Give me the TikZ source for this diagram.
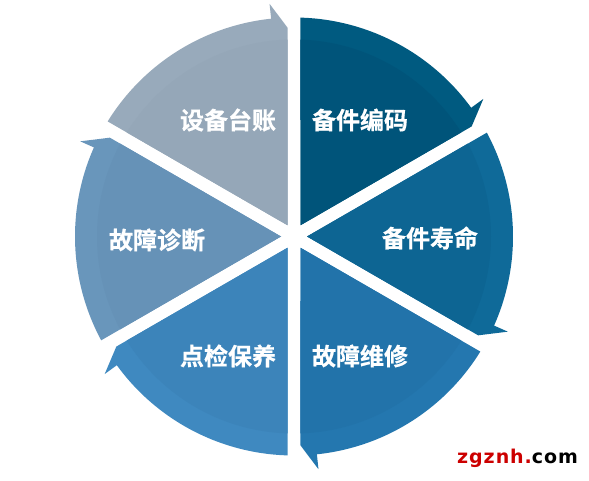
\documentclass[tikz,border=0pt]{standalone}
\usepackage{fontspec}
\newfontfamily\cjk{Noto Sans CJK SC}[BoldFont={Noto Sans CJK SC Bold},BoldFeatures={FakeBold=0.6}]
\newfontfamily\wmfont{DejaVu Sans}[LetterSpace=5]
\definecolor{cA}{HTML}{005A80}
\definecolor{cAi}{HTML}{00547A}
\definecolor{cB}{HTML}{0F6A99}
\definecolor{cBi}{HTML}{0D6593}
\definecolor{cC}{HTML}{2477AF}
\definecolor{cCi}{HTML}{2273AA}
\definecolor{cD}{HTML}{3F89C0}
\definecolor{cDi}{HTML}{3C84BA}
\definecolor{cE}{HTML}{6996BB}
\definecolor{cEi}{HTML}{6692B7}
\definecolor{cF}{HTML}{98AABB}
\definecolor{cFi}{HTML}{95A7B8}
\definecolor{wmred}{HTML}{CC0000}
\tikzset{
  lbl/.style={text=white, inner sep=0pt, font=\cjk\bfseries\fontsize{24}{24}\selectfont},
  wm/.style={inner sep=0pt, font=\wmfont\bfseries\fontsize{19}{19}\selectfont}
}
% #1 start angle, #2 end angle (clockwise), #3 outer colour, #4 inner colour
\newcommand{\sectorpath}[2]{(#1-30:13) -- (#1-1.7:219) arc[start angle=#1-1.7, end angle=#2+6, radius=219] -- (#2+6:234) -- (#2+1.78:209) -- cycle}
\newcommand{\mysector}[4]{%
  \fill[#3] \sectorpath{#1}{#2};
  \begin{scope}
    \clip \sectorpath{#1}{#2};
    \fill[#4] (0,0) circle[radius=197];
  \end{scope}}
\begin{document}
\begin{tikzpicture}[x=1pt,y=1pt]
\useasboundingbox (0,0) rectangle (589,480);
\fill[white] (0,0) rectangle (589,480);
\begin{scope}[shift={(294,243.5)}]
  \mysector{90}{30}{cA}{cAi}
  \mysector{30}{-30}{cB}{cBi}
  \mysector{-30}{-90}{cC}{cCi}
  \mysector{-90}{-150}{cD}{cDi}
  \mysector{-150}{-210}{cE}{cEi}
  \mysector{150}{90}{cF}{cFi}
\end{scope}
\node[lbl] (l1) at (360,360) {备件编码};
\node[lbl] (l2) at (430,242) {备件寿命};
\node[lbl] (l3) at (360,124) {故障维修};
\node[lbl] (l4) at (228,124) {点检保养};
\node[lbl] (l5) at (157,240) {故障诊断};
\node[lbl] (l6) at (228,360) {设备台账};
\node[wm, anchor=base west] (wm) at (457,17) {\textcolor{wmred}{zgznh.}com};
\end{tikzpicture}
\end{document}
